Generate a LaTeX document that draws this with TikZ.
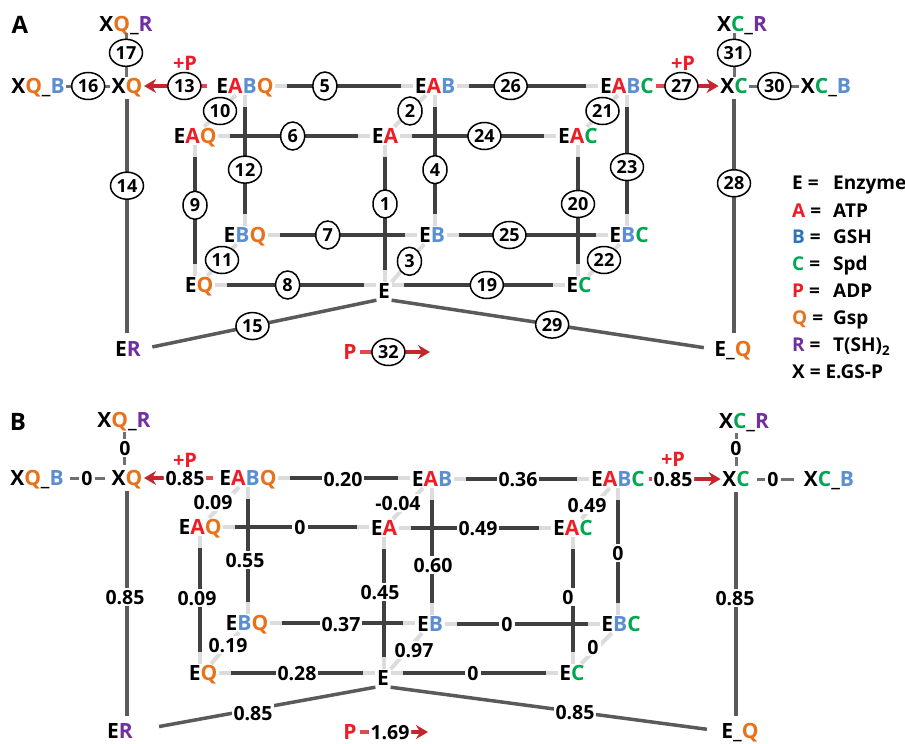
\documentclass[tikz,border=0pt]{standalone}
\usepackage{fontspec}
\setmainfont{Open Sans}
\usetikzlibrary{shapes.geometric,arrows.meta}
\definecolor{cA}{HTML}{EE1C25}
\definecolor{cB}{HTML}{5B8FD2}
\definecolor{cBl}{HTML}{2C74BE}
\definecolor{cC}{HTML}{00A651}
\definecolor{cQ}{HTML}{E8711A}
\definecolor{cR}{HTML}{7030A0}
\definecolor{cP}{HTML}{EE1C25}
\definecolor{dk}{HTML}{404040}
\definecolor{md}{HTML}{5A5A5A}
\definecolor{sc}{HTML}{707070}
\definecolor{lt}{HTML}{DCDCDC}
\definecolor{rdk}{HTML}{C1272D}
\definecolor{rlt}{HTML}{DD4A50}
\newcommand\mA{\textcolor{cA}{A}}
\newcommand\mB{\textcolor{cB}{B}}
\newcommand\mC{\textcolor{cC}{C}}
\newcommand\mQ{\textcolor{cQ}{Q}}
\newcommand\mR{\textcolor{cR}{R}}
\newcommand\hE[3]{\draw[lite] (#1.east) -- (#1.east -| #2.west);\draw[dark] (#1.east) -- (#1.east -| #2.west) #3;}
\newcommand\vE[3]{\draw[lite] (#1.south) -- (#1.south |- #2.north);\draw[dark] (#1.south) -- (#1.south |- #2.north) #3;}
\tikzset{
 sp/.style={font=\fontsize{21}{24}\selectfont\bfseries, inner sep=1.5pt, text height=15pt, text depth=0pt},
 cn/.style={ellipse, draw=black, line width=1.5pt, fill=white, inner sep=0pt, minimum width=24pt, minimum height=28pt, font=\fontsize{18}{20}\selectfont\bfseries},
 cnn/.style={cn, minimum width=33pt, minimum height=27pt},
 lite/.style={draw=lt, line width=4pt},
 dark/.style={draw=dk, line width=4pt, shorten <=12pt, shorten >=12pt},
 mid/.style={draw=md, line width=3.5pt},
 shortc/.style={draw=sc, line width=3pt},
 rl/.style={draw=rlt, line width=3.5pt},
 rd/.style={draw=rdk, line width=3.5pt, -{Stealth[length=12pt,width=14pt,inset=4pt]}},
 num/.style={fill=white, inner sep=2pt, font=\fontsize{19.5}{22}\selectfont\bfseries, text height=14pt, text depth=0pt},
 plus/.style={text=cP, font=\fontsize{20}{22}\selectfont\bfseries, inner sep=0pt},
 pan/.style={font=\fontsize{24}{26}\selectfont\bfseries, inner sep=0pt},
 leg/.style={font=\fontsize{19}{22}\selectfont\bfseries, inner sep=0pt, anchor=west, text height=13.5pt, text depth=0pt},
}
\begin{document}
\begin{tikzpicture}[x=1pt,y=-1pt]
\useasboundingbox (0,0) rectangle (905,744);
\fill[white] (0,0) rectangle (905,744);

% ================= PANEL A =================
\node[pan] (pA) at (20,25) {A};
\node[sp] (aXQR) at (126,24) {X\mQ\_\mR};
\node[sp] (aXQ) at (127,86) {X\mQ};
\node[sp] (aXQB) at (38,86) {X\mQ\_\mB};
\node[sp] (aEABQ) at (245,86) {E\mA\mB\mQ};
\node[sp] (aEAB) at (435,86) {E\mA\mB};
\node[sp] (aEABC) at (627,86) {E\mA\mB\mC};
\node[sp] (aXC) at (734,86) {X\mC};
\node[sp] (aXCB) at (826,86) {X\mC\_\mB};
\node[sp] (aXCR) at (742,24) {X\mC\_\mR};
\node[sp] (aEAQ) at (195,136) {E\mA\mQ};
\node[sp] (aEA) at (385,136) {E\mA};
\node[sp] (aEAC) at (578,136) {E\mA\mC};
\node[sp] (aEBQ) at (245,235) {E\mB\mQ};
\node[sp] (aEB) at (432,235) {E\mB};
\node[sp] (aEBC) at (629,235) {E\mB\mC};
\node[sp] (aEQ) at (199,285) {E\mQ};
\node[sp] (aE) at (384,291) {E};
\node[sp] (aEC) at (579,285) {E\mC};
\node[sp] (aER) at (128,349) {E\mR};
\node[sp] (aEQt) at (733,349) {E\_\mQ};
\node[sp,text=cP] (aP) at (350,352) {P};
\coordinate (t32) at (430,352);

% long grey edges
\draw[mid, shorten <=4pt, shorten >=7pt] (aXQ.south) -- (aXQ.south |- aER.north) node[cnn,pos=.37]{14};
\draw[mid, shorten <=4pt, shorten >=7pt] (aXC.south) -- (aXC.south |- aEQt.north) node[cnn,pos=.36]{28};
\draw[mid, shorten >=10pt] (aE.south west) -- (aER.east) node[cnn,pos=.53]{15};
\draw[mid, shorten >=9pt] (aE.south east) -- (aEQt.west) node[cnn,pos=.5]{29};

% short connectors
\draw[shortc] (aXQB.east) -- (aXQ.west) node[cnn,pos=.5]{16};
\draw[shortc] (aXQR.south) -- (aXQR.south |- aXQ.north) node[cnn,pos=.45]{17};
\draw[shortc] (aXC.east) -- (aXCB.west) node[cnn,pos=.5]{30};
\draw[shortc] (aXC.north) -- (aXC.north |- aXCR.south) node[cnn,pos=.55]{31};

% diagonals
\draw[lite] (aEA) -- (aEAB) node[cn,pos=.5]{2};
\draw[lite] (aE) -- (aEB) node[cn,pos=.55]{3};
\draw[lite] (aEAQ) -- (aEABQ) node[cnn,pos=.5]{10};
\draw[lite] (aEQ) -- (aEBQ) node[cnn,pos=.5]{11};
\draw[lite] (aEAC) -- (aEABC) node[cnn,pos=.5]{21};
\draw[lite] (aEC) -- (aEBC) node[cnn,pos=.5]{22};

% horizontal & vertical
\hE{aEABQ}{aEAB}{node[cn,pos=.36]{5}}
\hE{aEAB}{aEABC}{node[cnn,pos=.38]{26}}
\hE{aEAQ}{aEA}{node[cn,pos=.49]{6}}
\hE{aEA}{aEAC}{node[cnn,pos=.54]{24}}
\hE{aEBQ}{aEB}{node[cn,pos=.40]{7}}
\hE{aEB}{aEBC}{node[cnn,pos=.39]{25}}
\hE{aEQ}{aE}{node[cn,pos=.45]{8}}
\draw[lite] (aEC.west -| aE.east) -- (aEC.west);
\draw[dark] (aEC.west -| aE.east) -- (aEC.west) node[cnn,pos=.55]{19};
\vE{aEABQ}{aEBQ}{node[cnn,pos=.57]{12}}
\vE{aEAQ}{aEQ}{node[cn,pos=.46]{9}}
\vE{aEA}{aE}{node[cn,pos=.43]{1}}
\vE{aEAB}{aEB}{node[cn,pos=.57]{4}}
\vE{aEAC}{aEC}{node[cnn,pos=.45]{20}}
\vE{aEABC}{aEBC}{node[cnn,pos=.55]{23}}

% red arrows
\draw[rl, shorten <=8pt, shorten >=10pt] (aEABQ.west) -- (aXQ.east) node[cnn,pos=.43] (c13) {13};
\draw[rd] (c13) -- (aXQ.east);
\node[plus] (pl13) at (185,63) {+P};
\draw[rl, shorten >=10pt] (aEABC.east) -- (aXC.west) node[cnn,pos=.41] (c27) {27};
\draw[rd] (c27) -- (aXC.west);
\node[plus] (pl27) at (683,63) {+P};
\draw[rl, shorten <=2pt, shorten >=10pt] (aP.east) -- (t32) node[cnn,pos=.42] (c32) {32};
\draw[rd] (c32) -- (t32);

% legend
\node[leg] (lg1) at (792,183) {\makebox[41pt][l]{E =}Enzyme};
\node[leg] (lg2) at (792,211) {\makebox[41pt][l]{\textcolor{cA}{A} =}ATP};
\node[leg] (lg3) at (792,237) {\makebox[41pt][l]{\textcolor{cBl}{B} =}GSH};
\node[leg] (lg4) at (792,264) {\makebox[41pt][l]{\textcolor{cC}{C} =}Spd};
\node[leg] (lg5) at (792,291) {\makebox[41pt][l]{\textcolor{cP}{P} =}ADP};
\node[leg] (lg6) at (792,318) {\makebox[41pt][l]{\textcolor{cQ}{Q} =}Gsp};
\node[leg] (lg7) at (792,345) {\makebox[41pt][l]{\textcolor{cR}{R} =}T(SH)\textsubscript{2}};
\node[leg] (lg8) at (792,372) {X = E.GS-P};

% ================= PANEL B =================
\node[pan] (pB) at (18,422) {B};
\node[sp] (bXQR) at (124,420) {X\mQ\_\mR};
\node[sp] (bXQ) at (127,478) {X\mQ};
\node[sp] (bXQB) at (37,478) {X\mQ\_\mB};
\node[sp] (bEABQ) at (248,478) {E\mA\mB\mQ};
\node[sp] (bEAB) at (432,479) {E\mA\mB};
\node[sp] (bEABC) at (618,479) {E\mA\mB\mC};
\node[sp] (bXC) at (736,479) {X\mC};
\node[sp] (bXCB) at (829,479) {X\mC\_\mB};
\node[sp] (bXCR) at (744,421) {X\mC\_\mR};
\node[sp] (bEAQ) at (200,527) {E\mA\mQ};
\node[sp] (bEA) at (384,528) {E\mA};
\node[sp] (bEAC) at (573,528) {E\mA\mC};
\node[sp] (bEBQ) at (247,623) {E\mB\mQ};
\node[sp] (bEB) at (430,624) {E\mB};
\node[sp] (bEBC) at (621,624) {E\mB\mC};
\node[sp] (bEQ) at (203,673) {E\mQ};
\node[sp] (bE) at (383,678) {E};
\node[sp] (bEC) at (572,673) {E\mC};
\node[sp] (bER) at (120,731) {E\mR};
\node[sp] (bEQt) at (740,731) {E\_\mQ};
\node[sp,text=cP] (bP) at (350,732) {P};
\coordinate (u32) at (428,732);

\draw[mid, shorten <=4pt, shorten >=6pt] (bXQ.south) -- (bXQ.south |- bER.north);
\draw[mid, shorten <=4pt, shorten >=6pt] (bXC.south) -- (bXC.south |- bEQt.north);
\draw[mid, shorten >=25pt] (bE.south west) -- (bER.east);
\draw[mid, shorten >=13pt] (bE.south east) -- (bEQt.west);

\draw[shortc, shorten <=5pt, shorten >=5pt] (bXQB.east) -- (bXQ.west);
\draw[shortc, shorten <=3pt, shorten >=4pt] (bXQR.south) -- (bXQR.south |- bXQ.north);
\draw[shortc, shorten <=6pt, shorten >=8pt] (bXC.east) -- (bXCB.west);
\draw[shortc, shorten <=4pt, shorten >=3pt] (bXC.north) -- (bXC.north |- bXCR.south);

\draw[lite] (bEA) -- (bEAB);
\draw[lite] (bE) -- (bEB);
\draw[lite] (bEAQ) -- (bEABQ);
\draw[lite] (bEQ) -- (bEBQ);
\draw[lite] (bEAC) -- (bEABC);
\draw[lite] (bEC) -- (bEBC);

\hE{bEABQ}{bEAB}{}
\hE{bEAB}{bEABC}{}
\hE{bEAQ}{bEA}{}
\hE{bEA}{bEAC}{}
\hE{bEBQ}{bEB}{}
\hE{bEB}{bEBC}{}
\hE{bEQ}{bE}{}
\draw[lite] (bEC.west -| bE.east) -- (bEC.west);
\draw[dark] (bEC.west -| bE.east) -- (bEC.west);
\vE{bEABQ}{bEBQ}{}
\vE{bEAQ}{bEQ}{}
\vE{bEA}{bE}{}
\vE{bEAB}{bEB}{}
\vE{bEAC}{bEC}{}
\vE{bEABC}{bEBC}{}

\draw[rl, shorten <=5pt, shorten >=10pt] (bEABQ.west) -- (bXQ.east);
\draw[rl, shorten <=2pt, shorten >=10pt] (bEABC.east) -- (bXC.west);
\draw[rl, shorten <=2pt, shorten >=10pt] (bP.east) -- (u32);

% labels B
\node[num] (l17) at (125,448) {0};
\node[num] (l16) at (87,478) {0};
\node[num] (l13) at (185,478) {0.85};
\node[plus] (q13) at (185,460) {+P};
\node[num] (l5) at (343,479) {0.20};
\node[num] (l26) at (518,479) {0.36};
\node[num] (l27) at (673,479) {0.85};
\node[plus] (q27) at (673,459) {+P};
\node[num] (l30) at (773,479) {0};
\node[num] (l31) at (736,448) {0};
\node[num] (l10) at (213,502) {0.09};
\node[num] (l6) at (300,527) {0};
\node[num] (l2) at (398,503) {-0.04};
\node[num] (l24) at (478,528) {0.49};
\node[num] (l21) at (587,505) {0.49};
\node[num] (l12) at (245,560) {0.55};
\node[num] (l4) at (433,565) {0.60};
\node[num] (l23) at (618,553) {0};
\node[num] (l14) at (125,597) {0.85};
\node[num] (l28) at (735,598) {0.85};
\node[num] (l9) at (197,598) {0.09};
\node[num] (l1) at (380,592) {0.45};
\node[num] (l20) at (568,597) {0};
\node[num] (l7) at (341,624) {0.37};
\node[num] (l25) at (507,624) {0};
\node[num] (l11) at (228,645) {0.19};
\node[num] (l3) at (414,650) {0.97};
\node[num] (l22) at (593,647) {0};
\node[num] (l8) at (297,673) {0.28};
\node[num] (l19) at (473,673) {0};
\node[num] (l15) at (253,713) {0.85};
\node[num] (l29) at (575,712) {0.85};
\node[num] (l32) at (390,732) {1.69};

\draw[rd] (l13) -- (bXQ.east);
\draw[rd] (l27) -- (bXC.west);
\draw[rd] (l32) -- (u32);
\end{tikzpicture}
\end{document}
